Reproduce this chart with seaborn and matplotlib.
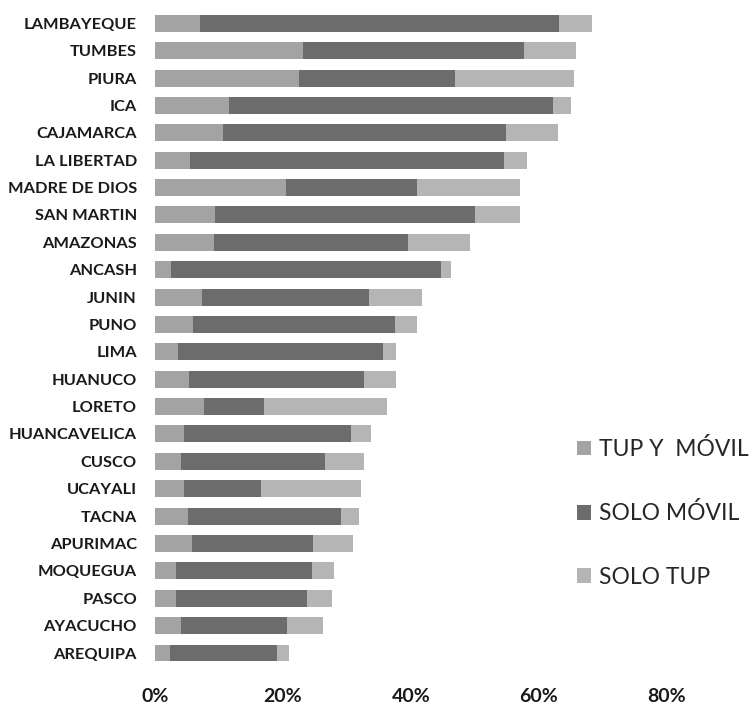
import matplotlib
matplotlib.use("Agg")
import matplotlib.pyplot as plt
from matplotlib.patches import Patch
import numpy as np
import pandas as pd
import seaborn as sns

# Regions, top to bottom
regions = [
    "LAMBAYEQUE", "TUMBES", "PIURA", "ICA", "CAJAMARCA", "LA LIBERTAD",
    "MADRE DE DIOS", "SAN MARTIN", "AMAZONAS", "ANCASH", "JUNIN", "PUNO",
    "LIMA", "HUANUCO", "LORETO", "HUANCAVELICA", "CUSCO", "UCAYALI",
    "TACNA", "APURIMAC", "MOQUEGUA", "PASCO", "AYACUCHO", "AREQUIPA",
]

# Share of households (%) by type of access
tup_y_movil = [7.0, 23.2, 22.5, 11.6, 10.7, 5.4, 20.5, 9.4, 9.2, 2.5, 7.3, 6.0,
               3.6, 5.3, 7.7, 4.6, 4.1, 4.5, 5.2, 5.8, 3.3, 3.3, 4.1, 2.3]
solo_movil = [56.1, 34.4, 24.4, 50.6, 44.1, 49.2, 20.5, 40.6, 30.4, 42.2, 26.1, 31.5,
              32.1, 27.3, 9.3, 26.0, 22.4, 12.0, 23.8, 18.9, 21.3, 20.5, 16.6, 16.8]
solo_tup = [5.2, 8.2, 18.5, 2.8, 8.1, 3.6, 16.1, 7.0, 9.6, 1.6, 8.3, 3.5,
            2.0, 5.0, 19.3, 3.1, 6.2, 15.7, 2.8, 6.3, 3.4, 3.8, 5.5, 1.8]

series_names = ["TUP Y  MÓVIL", "SOLO MÓVIL", "SOLO TUP"]
series_colors = ["#a3a3a3", "#6c6c6c", "#b5b5b5"]

x_ticks = [0, 20, 40, 60, 80]
x_tick_labels = ["0%", "20%", "40%", "60%", "80%"]

df = pd.DataFrame({
    "region": regions,
    "tup_y_movil": tup_y_movil,
    "solo_movil": solo_movil,
    "solo_tup": solo_tup,
})
df["cum1"] = df["tup_y_movil"]
df["cum2"] = df["cum1"] + df["solo_movil"]
df["cum3"] = df["cum2"] + df["solo_tup"]

sns.set_style("white")
plt.rcParams["font.family"] = ["Lato", "DejaVu Sans"]

fig = plt.figure(figsize=(7.56, 7.08), dpi=100)
ax = fig.add_axes([155 / 756, 41.3 / 708, 512 / 756, 657.1 / 708])

# Stacked bars: draw the running totals from the longest down
for col, color in zip(["cum3", "cum2", "cum1"], series_colors[::-1]):
    sns.barplot(data=df, x=col, y="region", order=regions, orient="h",
                color=color, width=0.62, linewidth=0, saturation=1, ax=ax)

ax.set_xlim(0, 80)
ax.set_xticks(x_ticks)
ax.set_xticklabels(x_tick_labels, fontsize=14, fontweight="bold", color="#1a1a1a")
ax.set_xlabel("")
ax.set_ylabel("")
for lab in ax.get_yticklabels():
    lab.set_fontsize(11.8)
    lab.set_fontweight("bold")
    lab.set_color("#1a1a1a")
ax.tick_params(axis="x", length=0, pad=15)
ax.tick_params(axis="y", length=0, pad=13)
for sp in ax.spines.values():
    sp.set_visible(False)

handles = [Patch(facecolor=c, edgecolor="none") for c in series_colors]
fig.legend(handles, series_names, loc="upper left",
           bbox_to_anchor=(577 / 756, 1 - 438 / 708), frameon=False,
           fontsize=16.5, labelcolor="#262626", handlelength=0.6,
           handleheight=0.6, handletextpad=0.35, labelspacing=1.85,
           borderaxespad=0, borderpad=0)

fig.savefig("out.png", dpi=100)
